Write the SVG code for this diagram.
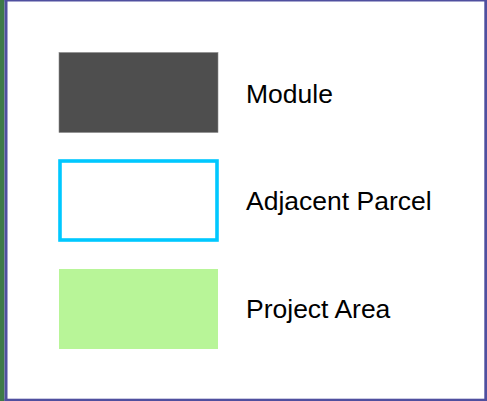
<svg xmlns="http://www.w3.org/2000/svg" width="487" height="401" viewBox="0 0 487 401">
  <style>
    .lbl { font-family: "Liberation Sans", Arial, sans-serif; font-size: 26.5px; fill: #000000; }
  </style>
  <rect x="0" y="0" width="487" height="401" fill="#ffffff"/>
  <rect x="0" y="0" width="4.5" height="401" fill="#3e7a48"/>
  <g id="frame" fill="#4f4f9f">
    <rect x="4.5" y="0" width="482.5" height="1.5"/>
    <rect x="4.5" y="0" width="3" height="401"/>
    <rect x="484.3" y="0" width="2.7" height="401"/>
    <rect x="4.5" y="398.7" width="482.5" height="2.3"/>
  </g>
  <g id="module">
    <rect x="59" y="52.5" width="159" height="80" fill="#4e4e4e" stroke="#8a8a8a" stroke-width="0.6"/>
    <text class="lbl" x="246" y="103">Module</text>
  </g>
  <g id="adjacent-parcel">
    <rect x="60" y="161" width="157" height="79" fill="#ffffff" stroke="#00c8ff" stroke-width="3.6"/>
    <text class="lbl" x="246" y="210">Adjacent Parcel</text>
  </g>
  <g id="project-area">
    <rect x="59" y="269" width="159" height="80" fill="#b8f598"/>
    <text class="lbl" x="246" y="318">Project Area</text>
  </g>
</svg>
